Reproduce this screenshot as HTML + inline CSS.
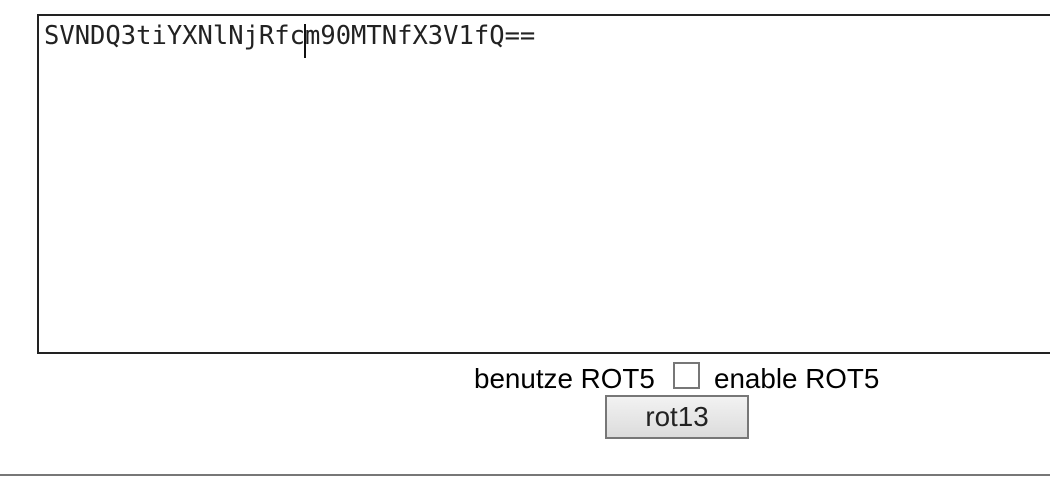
<!DOCTYPE html>
<html><head><style>
body{margin:0;width:1050px;height:478px;background:#fff;position:relative;overflow:hidden;font-family:"Liberation Sans",Arial,sans-serif;}
.ta{position:absolute;left:37px;top:14px;width:1100px;height:336px;border:2px solid #222;box-sizing:content-box;}
.txt{position:absolute;left:44px;top:21px;font-family:"DejaVu Sans Mono",monospace;font-size:25.5px;color:#222;white-space:pre;}
.caret{position:absolute;left:304px;top:24px;width:2px;height:34px;background:#111;}
.lbl{position:absolute;top:363px;font-size:27.8px;color:#000;}
.cb{position:absolute;left:673px;top:362px;width:23px;height:23px;border:2px solid #777;background:#fff;}
.btn{position:absolute;left:605px;top:395px;width:140px;height:40px;border:2px solid #777;background:linear-gradient(#f2f2f2,#dcdcdc);font-size:27.8px;color:#222;text-align:center;line-height:40px;}
.hr{position:absolute;left:0;top:474px;width:1050px;height:2px;background:#777;}
</style></head><body>
<div class="ta"></div>
<div class="txt">SVNDQ3tiYXNlNjRfcm90MTNfX3V1fQ==</div>
<div class="caret"></div>
<div class="lbl" style="left:474px">benutze ROT5</div>
<div class="cb"></div>
<div class="lbl" style="left:714px">enable ROT5</div>
<div class="btn">rot13</div>
<div class="hr"></div>
</body></html>
